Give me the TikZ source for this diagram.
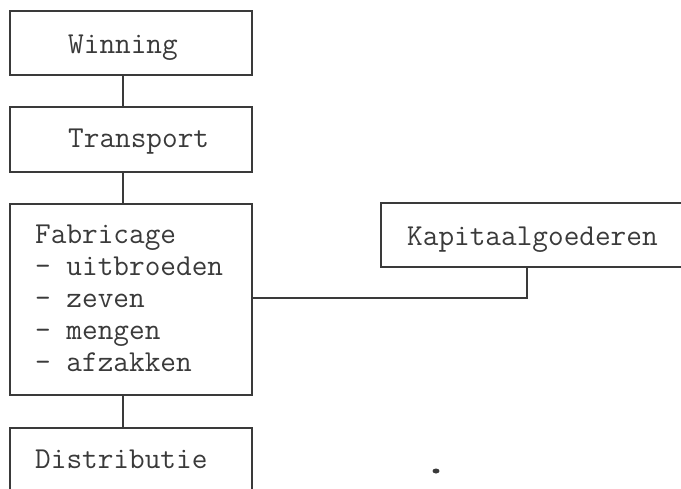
\documentclass[tikz,border=0pt]{standalone}
\usepackage{fontspec}
\begin{document}
\begin{tikzpicture}[x=1pt,y=-1pt,
  box/.style={draw=ink, line width=1.8pt, rectangle, inner sep=0pt},
  lbl/.style={anchor=base west, inner sep=0pt, text=ink,
    font=\ttfamily\fontsize{30.4}{32}\selectfont, align=left},
  wire/.style={draw=ink, line width=1.8pt}]
\definecolor{ink}{HTML}{3A3A3A}
\useasboundingbox (0,0) rectangle (681,488);
\clip (0,0) rectangle (681,488);
% boxes
\node[box, minimum width=242pt, minimum height=64pt] (win) at (131,43) {};
\node[box, minimum width=242pt, minimum height=65pt] (trans) at (131,139.5) {};
\node[box, minimum width=242pt, minimum height=191pt] (fab) at (131,299.5) {};
\node[box, minimum width=242pt, minimum height=90pt] (dist) at (131,473) {};
\node[box, minimum width=330pt, minimum height=64pt] (kap) at (546,235) {};
% texts (the base of a multi-line label is its last line)
\node[lbl] (twin) at (68,53) {Winning};
\node[lbl] (ttrans) at (68,147) {Transport};
\node[lbl] (tfab) at (35,371) {Fabricage\\- uitbroeden\\- zeven\\- mengen\\- afzakken};
\node[lbl] (tdist) at (35,468) {Distributie};
\node[lbl] (tkap) at (407,245) {Kapitaalgoederen};
% connectors
\coordinate (spine) at (123,0);
\coordinate (j) at (527,298);
\draw[wire] (spine |- win.south) -- (spine |- trans.north);
\draw[wire] (spine |- trans.south) -- (spine |- fab.north);
\draw[wire] (spine |- fab.south) -- (spine |- dist.north);
\draw[wire] (fab.east |- j) -- (j) -- (j |- kap.south);
% speck
\fill[ink] (436,471) ellipse (3.5pt and 2.5pt);
\end{tikzpicture}
\end{document}
